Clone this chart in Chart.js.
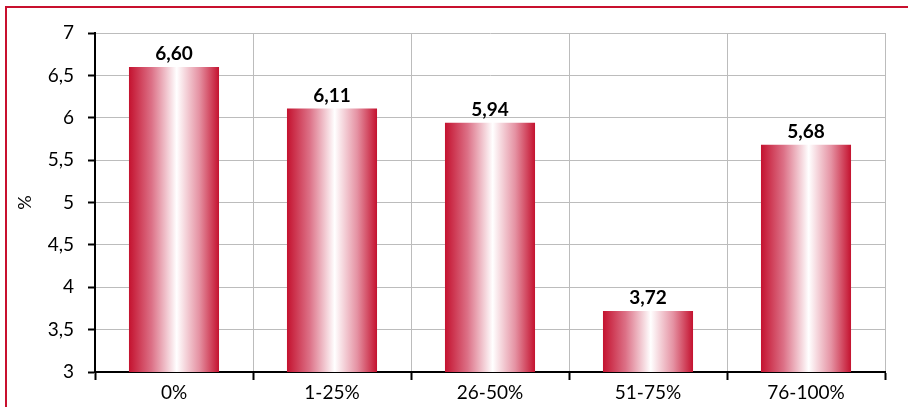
<!DOCTYPE html>
<html>
<head>
<meta charset="utf-8">
<script src="https://cdn.jsdelivr.net/npm/chart.js@4"></script>
<style>
  html, body { margin: 0; padding: 0; background: #fff; }
  #wrap { width: 908px; height: 407px; position: relative; }
</style>
</head>
<body>
<div id="wrap"><canvas id="chart"></canvas></div>
<script>
const categories = ['0%', '1-25%', '26-50%', '51-75%', '76-100%'];
const values = [6.60, 6.11, 5.94, 3.72, 5.68];
const yMin = 3, yMax = 7, yStep = 0.5;

const FONT = 'Lato, "Open Sans", sans-serif';
const fmt = (v, d) => v.toFixed(d).replace('.', ',');

// crimson -> white -> crimson across each bar
function barFill(c) {
  const chart = c.chart;
  const xs = chart.scales.x;
  if (!xs || !chart.chartArea) return '#c8102e';
  const cx = xs.getPixelForValue(c.dataIndex);
  const w = xs.width / categories.length * 0.57;
  const g = chart.ctx.createLinearGradient(cx - w / 2, 0, cx + w / 2, 0);
  g.addColorStop(0, '#c4122f');
  g.addColorStop(0.25, '#dc7086');
  g.addColorStop(0.53, '#ffffff');
  g.addColorStop(0.78, '#e592a3');
  g.addColorStop(1, '#c4122f');
  return g;
}

const frame = {
  id: 'frame',
  afterDraw(chart) {
    const ctx = chart.ctx;
    ctx.save();
    ctx.strokeStyle = '#c8102e';
    ctx.lineWidth = 2;
    ctx.strokeRect(6, 7, 960, 500);
    ctx.restore();
  }
};

const valueLabels = {
  id: 'valueLabels',
  afterDatasetsDraw(chart) {
    const ctx = chart.ctx;
    const meta = chart.getDatasetMeta(0);
    ctx.save();
    ctx.font = 'bold 19px ' + FONT;
    ctx.fillStyle = '#000';
    ctx.textAlign = 'center';
    ctx.textBaseline = 'middle';
    meta.data.forEach((bar, i) => {
      ctx.fillText(fmt(values[i], 2), bar.x, bar.y - 13);
    });
    ctx.restore();
  }
};

new Chart(document.getElementById('chart'), {
  type: 'bar',
  data: {
    labels: categories,
    datasets: [{
      data: values,
      backgroundColor: barFill,
      borderWidth: 0,
      barPercentage: 0.57,
      categoryPercentage: 1
    }]
  },
  options: {
    responsive: true,
    maintainAspectRatio: false,
    animation: false,
    layout: { padding: { top: 33, right: 23, left: 0, bottom: 0 } },
    plugins: { legend: { display: false }, tooltip: { enabled: false } },
    scales: {
      x: {
        grid: { color: '#bcbcbc', tickColor: '#000', tickLength: 8, tickWidth: 2, lineWidth: 1, offset: true },
        border: { color: '#000', width: 2 },
        ticks: { color: '#000', font: { family: FONT, size: 19 }, padding: 1 },
        afterFit(s) { s.height = 35; }
      },
      y: {
        min: yMin,
        max: yMax,
        grid: { color: '#bcbcbc', tickColor: '#000', tickLength: 7, tickWidth: 2, lineWidth: 1 },
        border: { color: '#000', width: 2 },
        ticks: {
          stepSize: yStep,
          color: '#000',
          padding: 14,
          font: { family: FONT, size: 19 },
          callback: v => String(v).replace('.', ',')
        },
        title: { display: true, text: '%', color: '#000', font: { family: FONT, size: 18 }, padding: { top: 14, bottom: 0 } },
        afterFit(s) { s.width = 95; }
      }
    }
  },
  plugins: [frame, valueLabels]
});
</script>
</body>
</html>
